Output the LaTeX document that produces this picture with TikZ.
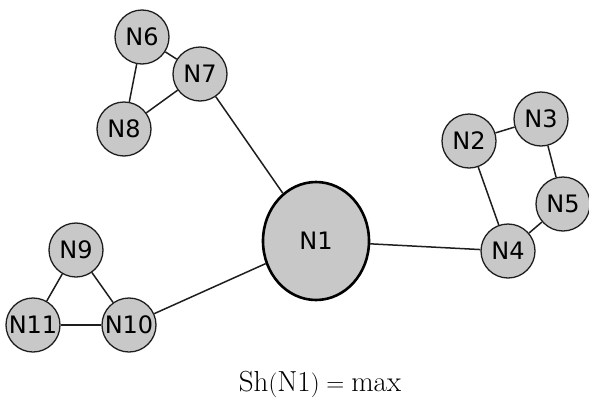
\documentclass[tikz,border=0pt]{standalone}
\usepackage{fontspec}
\usepackage{tikz}
\usetikzlibrary{shapes.geometric}
\newfontfamily\nodefont{DejaVu Sans}
\definecolor{NodeGray}{RGB}{200,200,200}
\definecolor{EdgeGray}{RGB}{30,30,30}

\begin{document}
\begin{tikzpicture}[x=1pt,y=-1pt,nd/.style={circle,draw=EdgeGray,fill=NodeGray,line width=1.3pt,minimum size=54pt,inner sep=0pt,font=\nodefont\fontsize{24}{26}\selectfont},hub/.style={nd,ellipse,line width=2.6pt,draw=black,minimum width=106pt,minimum height=118pt},lnk/.style={EdgeGray,line width=1.5pt}]
\useasboundingbox (0,0) rectangle (589,410);
\node[hub](n1) at(316,241) {N1};
\node[nd](n2) at(469,141) {N2};
\node[nd](n3) at(541,119) {N3};
\node[nd](n4) at(508,251) {N4};
\node[nd](n5) at(563,204) {N5};
\node[nd](n6) at(142,37) {N6};
\node[nd](n7) at(200,74) {N7};
\node[nd](n8) at(124,129) {N8};
\node[nd](n9) at(76,250) {N9};
\node[nd](n10) at(129,325) {N10};
\node[nd](n11) at(33,325) {N11};
\foreach \a/\b in {n6/n7,n6/n8,n7/n8,n7/n1,n1/n10,n9/n10,n9/n11,n11/n10,n1/n4,n2/n3,n2/n4,n3/n5,n5/n4} {
   \draw[lnk] (\a) -- (\b);
}
\node(cap) at(320,384) {\fontsize{29}{32}\selectfont$\mathrm{Sh(N1)}=\max$};
\end{tikzpicture}
\end{document}
